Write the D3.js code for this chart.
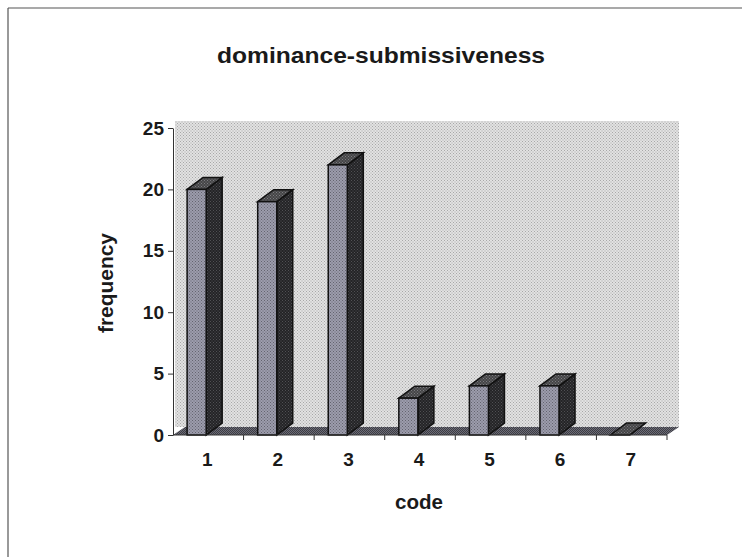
<!DOCTYPE html>
<html lang="en">
<head>
  <meta charset="utf-8">
  <title>dominance-submissiveness</title>
  <script src="https://d3js.org/d3.v7.min.js"></script>
  <style>
    body { margin: 0; background: #fff; }
    text { font-family: "Liberation Sans", Arial, sans-serif; fill: #1a1a1a; }
  </style>
</head>
<body>
  <script>
    // chart data
    var codes = ["1", "2", "3", "4", "5", "6", "7"];
    var frequency = [20, 19, 22, 3, 4, 4, 0];
    var yTicks = [0, 5, 10, 15, 20, 25];

    var w = 742;
    var h = 557;

    var svg = d3.select("body")
      .append("svg")
      .attr("width", w)
      .attr("height", h);

    // halftone-ish textures
    var defs = svg.append("defs");
    function dots(id, base, dot, size) {
      var p = defs.append("pattern")
        .attr("id", id)
        .attr("patternUnits", "userSpaceOnUse")
        .attr("width", size).attr("height", size);
      p.append("rect").attr("width", size).attr("height", size).attr("fill", base);
      p.append("rect").attr("x", 0).attr("y", 0).attr("width", 1).attr("height", 1).attr("fill", dot);
      p.append("rect").attr("x", size / 2).attr("y", size / 2).attr("width", 1).attr("height", 1).attr("fill", dot);
    }
    dots("wall", "#e2e2e2", "#a8a8a8", 3);
    dots("front", "#9c9cac", "#64646f", 3);
    dots("side", "#242426", "#505054", 3);
    dots("topf", "#454547", "#7c7c80", 3);
    dots("floor", "#6c6c76", "#3c3c44", 2);

    // frame (only top and left edges are on the scan)
    svg.append("line").attr("x1", 8).attr("y1", 8).attr("x2", w).attr("y2", 8)
      .attr("stroke", "#555").attr("stroke-width", 1.2);
    svg.append("line").attr("x1", 8).attr("y1", 8).attr("x2", 8).attr("y2", h)
      .attr("stroke", "#555").attr("stroke-width", 1.2);

    var x = d3.scaleBand().domain(codes).range([173, 667]).padding(0);
    var y = d3.scaleLinear().domain([0, 25]).range([435, 128]);

    var dx = 16, dy = 12;   // bar depth
    var fdx = 12, fdy = 8;  // floor depth

    // back wall
    svg.append("rect")
      .attr("x", 175).attr("y", 121)
      .attr("width", 679 - 175).attr("height", y(0) - fdy - 121)
      .attr("fill", "url(#wall)");

    // floor
    svg.append("path")
      .attr("d", "M" + x.range()[0] + "," + y(0) +
                 "L" + (x.range()[0] + fdx) + "," + (y(0) - fdy) +
                 "L" + (x.range()[1] + fdx) + "," + (y(0) - fdy) +
                 "L" + x.range()[1] + "," + y(0) + "Z")
      .attr("fill", "url(#floor)");

    // bars
    var bw = x.bandwidth();
    var fw = bw * 0.27;
    var bars = svg.append("g").selectAll("g")
      .data(codes.map(function(c, i) { return {code: c, v: frequency[i]}; }))
      .join("g");

    bars.each(function(d) {
      var g = d3.select(this);
      var x0 = x(d.code) + bw * 0.2, x1 = x0 + fw;
      var yt = y(d.v), yb = y(0);
      // side face
      g.append("path")
        .attr("d", "M" + x1 + "," + yb + "L" + x1 + "," + yt + "L" + (x1 + dx) + "," + (yt - dy) +
                   "L" + (x1 + dx) + "," + (yb - dy) + "Z")
        .attr("fill", "url(#side)").attr("stroke", "#111").attr("stroke-width", 1.5);
      // top face
      g.append("path")
        .attr("d", "M" + x0 + "," + yt + "L" + (x0 + dx) + "," + (yt - dy) + "L" + (x1 + dx) + "," + (yt - dy) +
                   "L" + x1 + "," + yt + "Z")
        .attr("fill", "url(#topf)").attr("stroke", "#111").attr("stroke-width", 1.5);
      // front face
      g.append("rect")
        .attr("x", x0).attr("y", yt).attr("width", fw).attr("height", yb - yt)
        .attr("fill", "url(#front)").attr("stroke", "#111").attr("stroke-width", 1.5);
    });

    // y axis
    var yAxis = svg.append("g")
      .attr("transform", "translate(173,0)")
      .call(d3.axisLeft(y).tickValues(yTicks).tickSize(5).tickPadding(4).tickSizeOuter(0));
    yAxis.select(".domain").attr("stroke", "#333");
    yAxis.selectAll(".tick line").attr("stroke", "#333");
    yAxis.selectAll(".tick text")
      .attr("font-family", "Liberation Sans, Arial, sans-serif")
      .attr("font-size", 19).attr("font-weight", "bold").attr("fill", "#1a1a1a");

    // x axis: ticks at category boundaries, labels in band centres
    var xg = svg.append("g");
    xg.append("line")
      .attr("x1", x.range()[0]).attr("x2", x.range()[1])
      .attr("y1", y(0)).attr("y2", y(0))
      .attr("stroke", "#333");
    xg.selectAll("line.tk")
      .data(codes.slice(1).map(function(c) { return x(c); }).concat([x.range()[1]]))
      .join("line").attr("class", "tk")
      .attr("x1", function(d) { return d; }).attr("x2", function(d) { return d; })
      .attr("y1", y(0)).attr("y2", y(0) + 5)
      .attr("stroke", "#333");
    xg.selectAll("text")
      .data(codes)
      .join("text")
      .attr("x", function(d) { return x(d) + bw / 2 - 1; })
      .attr("y", 466)
      .attr("text-anchor", "middle")
      .attr("font-size", 19).attr("font-weight", "bold")
      .text(function(d) { return d; });

    // titles
    svg.append("text")
      .attr("x", 381).attr("y", 63)
      .attr("text-anchor", "middle")
      .attr("font-size", 22).attr("font-weight", "bold")
      .attr("textLength", 328).attr("lengthAdjust", "spacingAndGlyphs")
      .text("dominance-submissiveness");

    svg.append("text")
      .attr("x", 419).attr("y", 509)
      .attr("text-anchor", "middle")
      .attr("font-size", 20).attr("font-weight", "bold")
      .attr("textLength", 48).attr("lengthAdjust", "spacingAndGlyphs")
      .text("code");

    svg.append("text")
      .attr("transform", "translate(113,283) rotate(-90)")
      .attr("text-anchor", "middle")
      .attr("font-size", 20).attr("font-weight", "bold")
      .attr("textLength", 100).attr("lengthAdjust", "spacingAndGlyphs")
      .text("frequency");
  </script>
</body>
</html>
